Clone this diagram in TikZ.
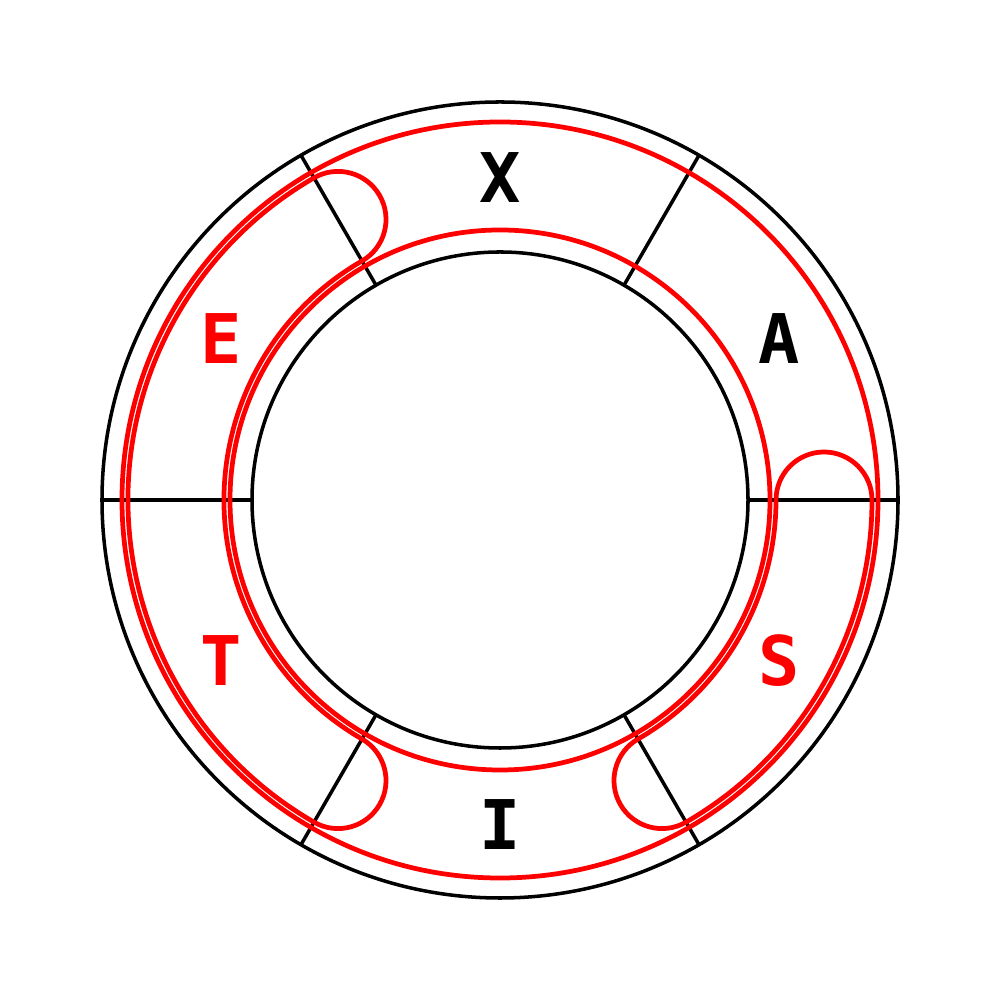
\documentclass[tikz,border=0pt]{standalone}
\usepackage{fontspec}
\newfontfamily\labelfont{DejaVu Sans Mono}
\begin{document}
\begin{tikzpicture}[
  ring/.style={draw=black, line width=1pt},
  strand/.style={draw=red, line width=1.35pt},
  letter/.style={font=\labelfont\bfseries\fontsize{19.5}{20}\selectfont},
  hot/.style={letter, text=red}
]
\useasboundingbox (-5,-5) rectangle (5,5);
\draw[ring] (0,0) circle (3.98);
\draw[ring] (0,0) circle (2.48);
\foreach \a in {0,60,...,300}
  \draw[ring] (\a:2.48) -- (\a:3.98);

\node[letter] (x) at (90:3.22) {X};
\node[letter] (a) at (30:3.22) {A};
\node[hot] (s) at (-30:3.22) {S};
\node[letter] (i) at (-90:3.25) {I};
\node[hot] (t) at (-150:3.22) {T};
\node[hot] (e) at (150:3.22) {E};

% strands running all the way round
\draw[strand] (0,0) circle (3.78);
\draw[strand] (0,0) circle (2.70);

% second strand under S, turned back in A and I
\draw[strand] (0:2.76) arc[start angle=0, end angle=-60, radius=2.76]
  arc[start angle=120, end angle=300, radius=0.48]
  arc[start angle=-60, end angle=0, radius=3.72]
  arc[start angle=0, end angle=180, radius=0.48];

% second strand under T and E, turned back in I and X
\draw[strand] (120:2.76) arc[start angle=120, end angle=240, radius=2.76]
  arc[start angle=60, end angle=-120, radius=0.48]
  arc[start angle=240, end angle=120, radius=3.72]
  arc[start angle=120, end angle=-60, radius=0.48];
\end{tikzpicture}
\end{document}
